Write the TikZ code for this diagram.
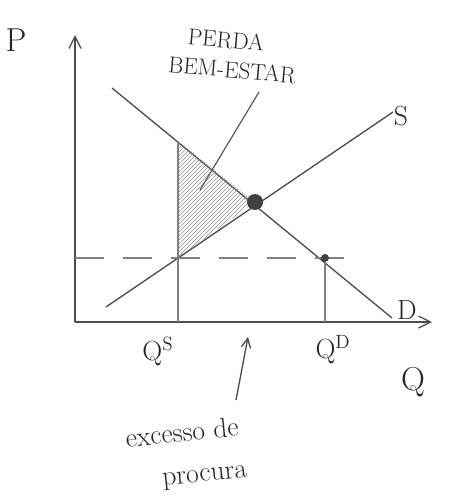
\documentclass[tikz,border=0pt]{standalone}
\usetikzlibrary{arrows.meta,patterns,calc,intersections}
\begin{document}
\begin{tikzpicture}[x=0.75pt,y=-0.75pt,
  ax/.style={draw=black!70,line width=1pt},
  curve/.style={draw=black!70,line width=1pt},
  guide/.style={draw=black!50,line width=0.9pt},
  lbl/.style={font=\huge,text=black!85,inner sep=1pt},
  pt/.style={circle,fill=black!75,inner sep=0pt}]
\useasboundingbox (0,0) rectangle (451,503);
% axes
\coordinate (O) at (75,322);
\coordinate (ytop) at (75,35);
\coordinate (xend) at (432,322);
\draw[ax,-{Straight Barb[length=9pt,width=9pt]}] (O) -- (ytop);
\draw[ax,-{Straight Barb[length=9pt,width=9pt]}] (O) -- (xend);
% demand and supply
\coordinate (D1) at (112,88);
\coordinate (D2) at (392,318);
\coordinate (S1) at (106,307);
\coordinate (S2) at (393,112);
\draw[curve] (D1) -- (D2);
\draw[curve] (S1) -- (S2);
% equilibrium and price line
\coordinate (E) at (255,202);
\coordinate (A) at (178,258);
\coordinate (B) at (325,258);
\coordinate (T) at (178,141);
\coordinate (QSb) at (178,322);
\coordinate (QDb) at (325,322);
\coordinate (L) at (75,258);
\coordinate (R) at (362,258);
% hatched triangle
\fill[pattern=north east lines,pattern color=black!45] (T) -- (E) -- (A) -- cycle;
\draw[guide] (T) -- (QSb);
\draw[guide] (B) -- (QDb);
\draw[guide,dash pattern=on 22pt off 14pt] (L) -- (R);
\node[pt,minimum size=12pt] (eq) at (E) {};
\node[pt,minimum size=6pt] (bd) at (B) {};
% labels
\node[lbl,font=\Huge] (P) at (16,40) {P};
\node[lbl,font=\Huge] (Q) at (413,382) {Q};
\node[lbl] (S) at (401,116) {S};
\node[lbl] (D) at (407,310) {D};
\node[lbl] (qs) at (158,352) {Q$^{\mathrm{S}}$};
\node[lbl] (qd) at (333,350) {Q$^{\mathrm{D}}$};
\node[lbl,font=\LARGE,rotate=-5] (perda) at (226,40) {PERDA};
\node[lbl,font=\LARGE,rotate=-5] (bem) at (232,70) {BEM-ESTAR};
\coordinate (pe1) at (259,92);
\coordinate (pe2) at (200,190);
\draw[guide,draw=black!65] (pe1) -- (pe2);
\node[lbl,rotate=6] (exc) at (182,432) {excesso de};
\node[lbl,rotate=6] (proc) at (205,478) {procura};
\coordinate (ar1) at (236,400);
\coordinate (ar2) at (248,337);
\draw[curve,-{Straight Barb[length=7pt,width=7pt]}] (ar1) -- (ar2);
\end{tikzpicture}
\end{document}
